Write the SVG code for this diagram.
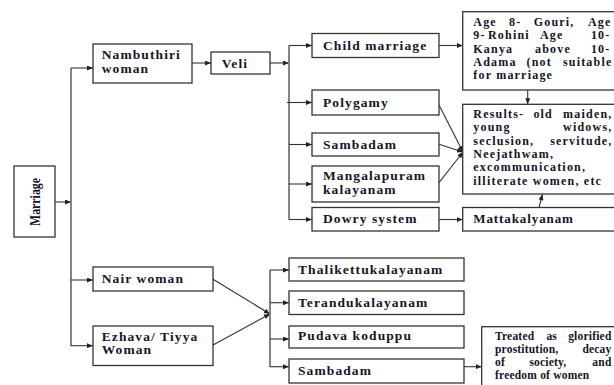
<svg xmlns="http://www.w3.org/2000/svg" width="614" height="385" viewBox="0 0 614 385">
<defs>
<marker id="ah" viewBox="0 0 6 5" markerWidth="6" markerHeight="5" refX="6" refY="2.5" orient="auto" markerUnits="userSpaceOnUse"><path d="M0,0 L6,2.5 L0,5 z" fill="#222"/></marker>
</defs>
<style>
.box{fill:#fff;stroke:#333;stroke-width:1.3}
.t{font-family:"Liberation Serif","Times New Roman",serif;font-weight:bold;font-size:13.5px;letter-spacing:1.1px;fill:#141428}
.p{font-size:12px;letter-spacing:1.2px}
.s{font-size:11.5px;letter-spacing:0.2px}
.e{text-anchor:end}
.c{stroke:#333;stroke-width:1.1;fill:none}
.bus{stroke:#777;stroke-width:1.8;fill:none}
.a{marker-end:url(#ah)}
</style>
<rect width="614" height="385" fill="#fff"/>
<g id="connectors">
<path class="c a" d="M55,202 H71"/>
<path class="bus" d="M71,68 V346"/>
<path class="c a" d="M71,68 H93"/>
<path class="c a" d="M71,280 H93"/>
<path class="c a" d="M71,345.7 H93"/>
<path class="c a" d="M192,63 H211"/>
<path class="c a" d="M270,63 H289"/>
<path class="bus" d="M289,45.5 V219.5"/>
<path class="c a" d="M289,45.5 H312"/>
<path class="c a" d="M287,102.5 H312"/>
<path class="c a" d="M289,144.5 H312"/>
<path class="c a" d="M289,184 H312"/>
<path class="c a" d="M289,219.5 H312"/>
<path class="c a" d="M439,45.5 H462.7"/>
<path class="c a" d="M527.7,90 V104.3"/>
<path class="c a" d="M439,105 L463,152"/>
<path class="c a" d="M439,144.3 L463,152"/>
<path class="c a" d="M439,182.7 L463,152"/>
<path class="c a" d="M439,219.5 H462.7"/>
<path class="c a" d="M539,207.5 L542.5,194.3"/>
<path class="c a" d="M213,279.3 L270,314"/>
<path class="c a" d="M213,345 L270,314"/>
<path class="bus" d="M270,270 V367"/>
<path class="c a" d="M270,270 H289"/>
<path class="c a" d="M270,302.7 H289"/>
<path class="c a" d="M270,339 H289"/>
<path class="c a" d="M270,366.7 H289"/>
<path class="c a" d="M464,366.7 H481.7"/>
</g>
<g id="marriage"><rect class="box" x="14" y="166" width="41" height="71"/><text class="t" transform="translate(39.5,202) rotate(-90)" text-anchor="middle" textLength="48" lengthAdjust="spacingAndGlyphs" style="font-size:14px;letter-spacing:0">Marriage</text></g>
<g id="nambuthiri"><rect class="box" x="93" y="44" width="99" height="39"/><text class="t" x="101.7" y="59">Nambuthiri</text><text class="t" x="101.7" y="72.5">woman</text></g>
<g id="veli"><rect class="box" x="211" y="52" width="59" height="22"/><text class="t" x="221.7" y="67.5">Veli</text></g>
<g id="child"><rect class="box" x="312" y="33.5" width="127" height="24"/><text class="t" x="323" y="50">Child marriage</text></g>
<g id="polygamy"><rect class="box" x="312" y="90" width="127" height="25"/><text class="t" x="323" y="106.5">Polygamy</text></g>
<g id="sambadam1"><rect class="box" x="312" y="133" width="127" height="23"/><text class="t" x="323" y="148.5">Sambadam</text></g>
<g id="mangalapuram"><rect class="box" x="312" y="166" width="127" height="36"/><text class="t" x="323" y="180">Mangalapuram</text><text class="t" x="323" y="194">kalayanam</text></g>
<g id="dowry"><rect class="box" x="312" y="207.5" width="127" height="23.5"/><text class="t" x="323" y="223">Dowry system</text></g>
<g id="age"><rect class="box" x="462.7" y="11.7" width="160" height="78.3"/>
<text class="t p" y="26"><tspan x="473.3">Age</tspan><tspan x="509.1">8-</tspan><tspan x="533.7">Gouri,</tspan></text><text class="t p e" x="611.5" y="26">Age</text>
<text class="t p" y="39.3"><tspan x="473.3">9-</tspan><tspan x="488">Rohini</tspan><tspan x="540">Age</tspan></text><text class="t p e" x="610.5" y="39.3">10-</text>
<text class="t p" y="52.6"><tspan x="473.3">Kanya</tspan><tspan x="535">above</tspan></text><text class="t p e" x="610.5" y="52.6">10-</text>
<text class="t p" y="65.9"><tspan x="473.3">Adama</tspan><tspan x="526.5">(not</tspan></text><text class="t p e" x="612.5" y="65.9">suitable</text>
<text class="t p" x="473.3" y="79.2">for marriage</text></g>
<g id="results"><rect class="box" x="462.7" y="104.3" width="160" height="89.7"/>
<text class="t p" y="118"><tspan x="473.3">Results-</tspan><tspan x="533.4">old</tspan></text><text class="t p e" x="612.5" y="118">maiden,</text>
<text class="t p" x="473.3" y="131.3">young</text><text class="t p e" x="612.5" y="131.3">widows,</text>
<text class="t p" x="473.3" y="144.6">seclusion,</text><text class="t p e" x="612.5" y="144.6">servitude,</text>
<text class="t p" x="473.3" y="157.9">Neejathwam,</text>
<text class="t p" x="473.3" y="171.2">excommunication,</text>
<text class="t p" x="473.3" y="184.5">illiterate women, etc</text></g>
<g id="mattakalyanam"><rect class="box" x="462.7" y="207.5" width="160" height="23.5"/><text class="t p" x="473.3" y="223" style="font-size:13px;letter-spacing:0.9px">Mattakalyanam</text></g>
<g id="nair"><rect class="box" x="93" y="267" width="120" height="24"/><text class="t" x="101.7" y="283">Nair woman</text></g>
<g id="ezhava"><rect class="box" x="93" y="326" width="120" height="39.5"/><text class="t" x="101.7" y="340.5">Ezhava/ Tiyya</text><text class="t" x="101.7" y="354">Woman</text></g>
<g id="thalikettu"><rect class="box" x="289" y="258" width="175" height="23"/><text class="t" x="298" y="274">Thalikettukalayanam</text></g>
<g id="terandu"><rect class="box" x="289" y="291" width="175" height="23.5"/><text class="t" x="298" y="307">Terandukalayanam</text></g>
<g id="pudava"><rect class="box" x="289" y="326" width="175" height="22"/><text class="t" x="298" y="340">Pudava koduppu</text></g>
<g id="sambadam2"><rect class="box" x="289" y="359" width="175" height="24"/><text class="t" x="298" y="375">Sambadam</text></g>
<g id="treated"><rect class="box" x="481.7" y="326.7" width="140" height="70"/>
<text class="t s" y="339.5"><tspan x="495">Treated</tspan><tspan x="546.4">as</tspan></text><text class="t s e" x="611.5" y="339.5">glorified</text>
<text class="t s" x="495" y="352.8">prostitution,</text><text class="t s e" x="611.5" y="352.8">decay</text>
<text class="t s" y="366.1"><tspan x="495">of</tspan><tspan x="529.4">society,</tspan></text><text class="t s e" x="611.5" y="366.1">and</text>
<text class="t s" x="495" y="379.4">freedom of women</text></g>
</svg>
